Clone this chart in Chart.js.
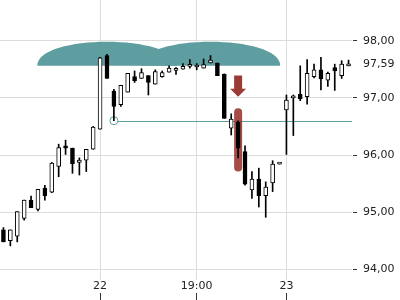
<!DOCTYPE html>
<html>
<head>
<meta charset="utf-8">
<script src="https://cdn.jsdelivr.net/npm/chart.js@4.4.1/dist/chart.umd.min.js"></script>
<style>
  body { margin: 0; background: #fff; }
</style>
</head>
<body>
<canvas id="miGrafica" width="400" height="300"></canvas>
<script>
//Datos de las velas (una por posición del eje X)
const aperturas = [94.69, 94.50, 94.58, 94.89, 95.21, 95.05, 95.42, 95.35, 95.80, 96.16,
  96.12, 95.87, 95.91, 96.10, 96.45, 97.74, 97.12, 96.88, 97.10, 97.37,
  97.34, 97.39, 97.24, 97.37, 97.45, 97.48, 97.50, 97.55, 97.54, 97.52,
  97.61, 97.61, 97.41, 96.47, 96.57, 96.06, 95.39, 95.58, 95.29, 95.51,
  95.84, 96.79, 97.00, 97.06, 97.02, 97.37, 97.49, 97.31, 97.53, 97.39, 97.56];
const maximos = [94.73, 94.69, 95.01, 95.21, 95.28, 95.40, 95.47, 95.87, 96.19, 96.26,
  96.12, 95.95, 96.10, 96.50, 97.71, 97.76, 97.15, 97.22, 97.43, 97.47,
  97.51, 97.39, 97.49, 97.47, 97.56, 97.53, 97.60, 97.67, 97.60, 97.68,
  97.74, 97.61, 97.42, 96.72, 96.60, 96.16, 95.71, 95.77, 95.53, 95.90,
  95.85, 97.05, 97.05, 97.56, 97.67, 97.59, 97.71, 97.45, 97.59, 97.65, 97.66];
const minimos = [94.48, 94.41, 94.48, 94.86, 95.08, 95.02, 95.21, 95.34, 95.62, 96.01,
  95.68, 95.65, 95.71, 96.10, 96.45, 97.34, 96.60, 96.85, 97.10, 97.27,
  97.34, 97.05, 97.24, 97.36, 97.45, 97.41, 97.50, 97.52, 97.49, 97.52,
  97.61, 97.39, 96.64, 96.35, 95.95, 95.47, 95.24, 95.09, 94.91, 95.36,
  95.84, 96.01, 96.34, 96.95, 96.89, 97.35, 97.14, 97.20, 97.13, 97.34, 97.56];
const cierres = [94.48, 94.69, 95.01, 95.21, 95.08, 95.40, 95.29, 95.86, 96.13, 96.12,
  95.85, 95.91, 96.10, 96.49, 97.70, 97.34, 96.85, 97.22, 97.43, 97.30,
  97.44, 97.27, 97.46, 97.44, 97.52, 97.49, 97.55, 97.56, 97.55, 97.58,
  97.66, 97.39, 96.64, 96.63, 96.12, 95.49, 95.58, 95.29, 95.44, 95.84,
  95.85, 96.96, 97.01, 96.98, 97.43, 97.49, 97.33, 97.43, 97.47, 97.59, 97.59];

//Etiquetas del eje X (índice de vela -> texto)
const marcasEje = { 14: "22", 28: "19:00", 41: "23" };
//Eje Y
const ticksY = [94, 95, 96, 97, 97.59, 98];
const precioActual = 97.59;
const minY = 93.813;
const maxY = 98.712;

//Anotaciones (en índices de vela y precios)
const nubes = [[4.9, 25.1], [19.9, 40.1]];
const nubeBase = 97.56;
const nubeCima = 97.98;
const soporte = { vela: 16, precio: 96.6 };
const flecha = { vela: 34, desde: 97.39, hasta: 97.02 };
const marcaRoja = { vela: 34, desde: 96.82, hasta: 95.71 };

const etiquetas = aperturas.map((_, i) => marcasEje[i] || "");
const cuerpos = aperturas.map((a, i) => [Math.min(a, cierres[i]), Math.max(a, cierres[i])]);
const mechas = minimos.map((m, i) => [m, maximos[i]]);
const relleno = aperturas.map((a, i) => (cierres[i] >= a ? "#ffffff" : "#000000"));

const fuente = { family: "DejaVu Sans", size: 11 };
const colorGrid = "#dcdcdc";
const teal = "#5f9ea0";

//Quita el relleno automático que Chart.js deja para las etiquetas
const sinRelleno = (scale) => {
  scale.paddingTop = 0;
  scale.paddingBottom = 0;
  scale.paddingLeft = 0;
  scale.paddingRight = 0;
};

//Plugin para dibujar nubes, línea de soporte, flecha y marca
const anotaciones = {
  id: "anotaciones",
  beforeDatasetsDraw(chart) {
    const { ctx, chartArea, scales } = chart;
    const x = scales.x;
    const y = scales.y;
    ctx.save();
    //Nubes
    ctx.fillStyle = teal;
    const base = y.getPixelForValue(nubeBase);
    const alto = (base - y.getPixelForValue(nubeCima)) / 0.75;
    nubes.forEach(([a, b]) => {
      const xa = x.getPixelForValue(a);
      const xb = x.getPixelForValue(b);
      ctx.beginPath();
      ctx.moveTo(xa, base);
      ctx.bezierCurveTo(xa, base - alto, xb, base - alto, xb, base);
      ctx.closePath();
      ctx.fill();
    });
    //Línea de soporte con círculo
    const sx = x.getPixelForValue(soporte.vela);
    const sy = y.getPixelForValue(soporte.precio);
    ctx.strokeStyle = teal;
    ctx.lineWidth = 1;
    ctx.beginPath();
    ctx.moveTo(sx + 4, Math.round(sy) + 0.5);
    ctx.lineTo(chartArea.right, Math.round(sy) + 0.5);
    ctx.stroke();
    ctx.beginPath();
    ctx.arc(sx, sy, 4, 0, 2 * Math.PI);
    ctx.stroke();
    //Marca roja
    const mx = x.getPixelForValue(marcaRoja.vela);
    const my1 = y.getPixelForValue(marcaRoja.desde);
    const my2 = y.getPixelForValue(marcaRoja.hasta);
    ctx.fillStyle = "rgba(150, 45, 40, 0.85)";
    ctx.beginPath();
    ctx.roundRect(mx - 4, my1, 8, my2 - my1, 4);
    ctx.fill();
    ctx.restore();
  },
  afterDatasetsDraw(chart) {
    const { ctx, scales } = chart;
    const fx = scales.x.getPixelForValue(flecha.vela);
    const y1 = scales.y.getPixelForValue(flecha.desde);
    const y2 = scales.y.getPixelForValue(flecha.hasta);
    ctx.save();
    ctx.fillStyle = "#9c3b36";
    ctx.beginPath();
    ctx.moveTo(fx - 4, y1);
    ctx.lineTo(fx + 4, y1);
    ctx.lineTo(fx + 4, y2 - 8);
    ctx.lineTo(fx + 8, y2 - 8);
    ctx.lineTo(fx, y2);
    ctx.lineTo(fx - 8, y2 - 8);
    ctx.lineTo(fx - 4, y2 - 8);
    ctx.closePath();
    ctx.fill();
    ctx.restore();
  },
};

const ctx = document.getElementById("miGrafica").getContext("2d");
new Chart(ctx, {
  type: "bar",
  data: {
    labels: etiquetas,
    datasets: [
      {
        //Cuerpos de las velas
        data: cuerpos,
        backgroundColor: relleno,
        borderColor: "#000000",
        borderWidth: 1,
        borderSkipped: false,
        barThickness: 4,
        minBarLength: 2,
        grouped: false,
        order: 0,
      },
      {
        //Mechas
        data: mechas,
        backgroundColor: "#000000",
        barThickness: 1,
        grouped: false,
        order: 1,
      },
    ],
  },
  options: {
    responsive: false,
    animation: false,
    devicePixelRatio: 1,
    layout: { padding: 0, autoPadding: false },
    plugins: { legend: { display: false }, tooltip: { enabled: false } },
    scales: {
      x: {
        border: { display: false },
        afterFit: (scale) => {
          scale.height = 20;
          sinRelleno(scale);
        },
        grid: {
          offset: false,
          color: (c) => (marcasEje[c.index] ? colorGrid : "transparent"),
          tickColor: (c) => (marcasEje[c.index] ? "#333333" : "transparent"),
          tickLength: 20,
          tickBorderDash: [7, 13],
          tickBorderDashOffset: 7,
        },
        ticks: {
          autoSkip: false,
          maxRotation: 0,
          padding: -20,
          color: "#222222",
          font: fuente,
        },
      },
      y: {
        position: "right",
        min: minY,
        max: maxY,
        border: { display: false },
        afterBuildTicks: (scale) => {
          scale.ticks = ticksY.map((v) => ({ value: v }));
        },
        afterFit: (scale) => {
          scale.width = 48;
          sinRelleno(scale);
        },
        grid: {
          color: (c) => (c.tick && c.tick.value === precioActual ? "transparent" : colorGrid),
          tickColor: (c) => (c.tick && c.tick.value === precioActual ? "transparent" : "#333333"),
          tickLength: 5,
          tickBorderDash: [4, 10],
          tickBorderDashOffset: 13,
        },
        ticks: {
          padding: 6,
          color: "#222222",
          font: fuente,
          callback: (v) => v.toFixed(2).replace(".", ","),
        },
      },
    },
  },
  plugins: [anotaciones],
});
</script>
</body>
</html>
